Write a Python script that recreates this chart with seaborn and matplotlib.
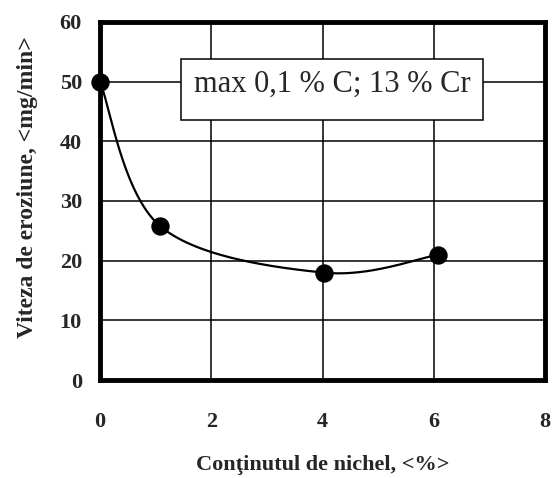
import numpy as np
import pandas as pd
import matplotlib
matplotlib.use("Agg")
import matplotlib.pyplot as plt
from matplotlib.patches import Rectangle
import seaborn as sns

# data
nichel = [0.0, 1.08, 4.02, 6.08]
viteza = [50.0, 25.8, 18.0, 21.0]
x_ticks = [0, 2, 4, 6, 8]
y_ticks = [0, 10, 20, 30, 40, 50, 60]
nota = "max 0,1 % C; 13 % Cr"

sns.set_style("white")
plt.rcParams['font.family'] = ['Liberation Serif', 'DejaVu Serif']


# smoothed line like the spreadsheet one (Catmull-Rom through the points)
def smooth(xs, ys, n=60):
    p = np.column_stack([xs, ys])
    p = np.vstack([p[0], p, p[-1]])
    out = []
    for i in range(1, len(p) - 2):
        p0, p1, p2, p3 = p[i - 1], p[i], p[i + 1], p[i + 2]
        t = np.linspace(0, 1, n)[:, None]
        seg = 0.5 * ((2 * p1) + (-p0 + p2) * t + (2 * p0 - 5 * p1 + 4 * p2 - p3) * t ** 2
                     + (-p0 + 3 * p1 - 3 * p2 + p3) * t ** 3)
        out.append(seg)
    out = np.vstack(out)
    return out[:, 0], out[:, 1]


sx, sy = smooth(nichel, viteza)
curve = pd.DataFrame({"x": sx, "y": sy, "i": np.arange(len(sx))})
pts = pd.DataFrame({"x": nichel, "y": viteza})

fig = plt.figure(figsize=(5.54, 4.78), dpi=100)
ax = fig.add_axes([0.1805, 0.205, 0.8033, 0.749])

ax.set_xlim(0, 8)
ax.set_ylim(0, 60)
ax.set_xticks(x_ticks)
ax.set_yticks(y_ticks)
ax.grid(True, color="black", linewidth=1.1)
ax.set_axisbelow(True)

sns.lineplot(data=curve, x="x", y="y", sort=False, color="black", linewidth=1.6, ax=ax, zorder=3)
sns.scatterplot(data=pts, x="x", y="y", color="black", s=150, edgecolor="black", ax=ax, zorder=4, clip_on=False)

for s in ax.spines.values():
    s.set_linewidth(3.5)
    s.set_color("black")

ax.tick_params(axis="both", direction="out", length=7, width=1.2, color="black")
ax.tick_params(axis="x", pad=16)
ax.tick_params(axis="y", pad=6)
for lab in ax.get_xticklabels() + ax.get_yticklabels():
    lab.set_fontweight("bold")
    lab.set_fontsize(16)

ax.set_xlabel("Conţinutul de nichel, <%>", fontsize=16, fontweight="bold")
ax.set_ylabel("Viteza de eroziune, <mg/min>", fontsize=17, fontweight="bold")
ax.xaxis.set_label_coords(0.5, -0.21)
ax.yaxis.set_label_coords(-0.14, 0.54)

# note box
ax.add_patch(Rectangle((1.46, 43.6), 5.43, 10.2, facecolor="white", edgecolor="black",
                       linewidth=1.1, zorder=5))
ax.text(4.17, 49.6, nota, fontsize=22, ha="center", va="center", zorder=6)

fig.savefig("out.png", dpi=100)
